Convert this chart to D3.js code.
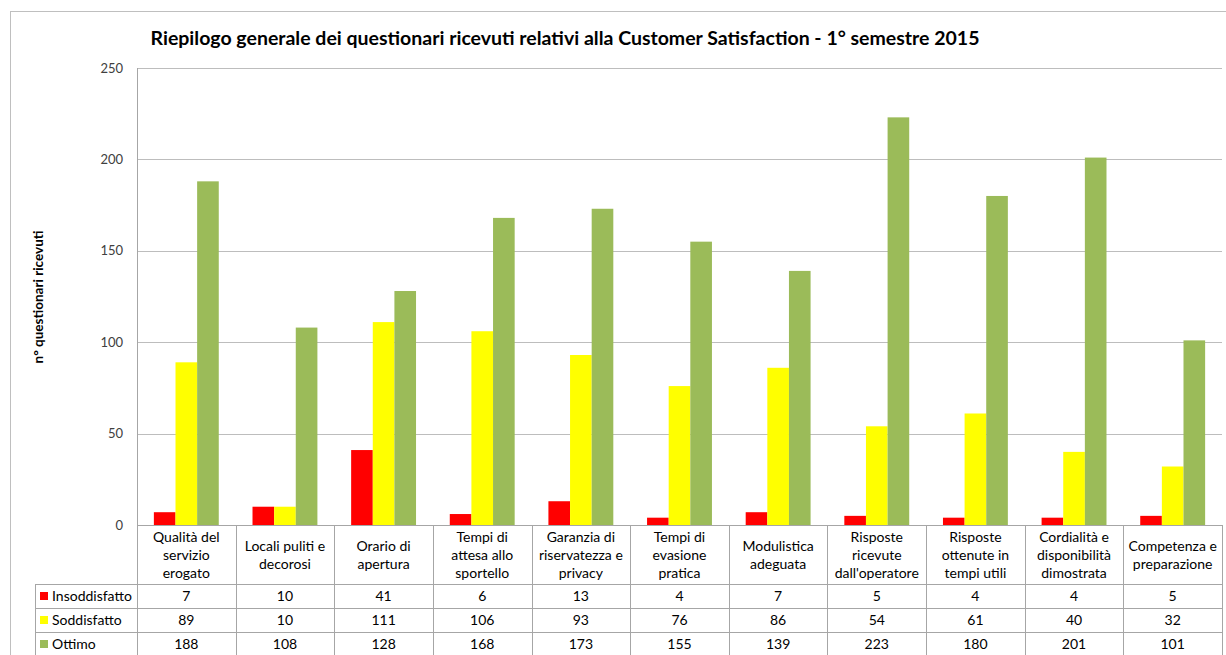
<!DOCTYPE html>
<html>
<head>
<meta charset="utf-8">
<script src="https://d3js.org/d3.v7.min.js"></script>
<style>
  body { margin: 0; background: #fff; }
  svg { display: block; font-family: Lato, "Open Sans", sans-serif; }
</style>
</head>
<body>
<script>
// dati
var categories = [
  ["Qualità del", "servizio", "erogato"],
  ["Locali puliti e", "decorosi"],
  ["Orario di", "apertura"],
  ["Tempi di", "attesa allo", "sportello"],
  ["Garanzia di", "riservatezza e", "privacy"],
  ["Tempi di", "evasione", "pratica"],
  ["Modulistica", "adeguata"],
  ["Risposte", "ricevute", "dall'operatore"],
  ["Risposte", "ottenute in", "tempi utili"],
  ["Cordialità e", "disponibilità", "dimostrata"],
  ["Competenza e", "preparazione"]
];
var seriesNames = ["Insoddisfatto", "Soddisfatto", "Ottimo"];
var insoddisfatto = [7, 10, 41, 6, 13, 4, 7, 5, 4, 4, 5];
var soddisfatto = [89, 10, 111, 106, 93, 76, 86, 54, 61, 40, 32];
var ottimo = [188, 108, 128, 168, 173, 155, 139, 223, 180, 201, 101];
var yTicks = [0, 50, 100, 150, 200, 250];
var colors = ["#ff0000", "#ffff00", "#9bbb59"];

var values = [insoddisfatto, soddisfatto, ottimo];
var W = 1226, H = 655;

var svg = d3.select('body').append('svg')
  .attr('width', W)
  .attr('height', H);

// bordo esterno del grafico
svg.append('rect')
  .attr('x', 10.5).attr('y', 11.5)
  .attr('width', W).attr('height', H)
  .attr('fill', 'none')
  .attr('stroke', '#bfbfbf');

svg.append('text')
  .attr('x', 565).attr('y', 45)
  .attr('text-anchor', 'middle')
  .attr('font-size', 19.5)
  .attr('font-weight', 'bold')
  .attr('fill', '#000')
  .text('Riepilogo generale dei questionari ricevuti relativi alla Customer Satisfaction - 1° semestre 2015');

var idx = d3.range(categories.length);
var x0 = d3.scaleBand().domain(idx).range([137, 1222]);
var x1 = d3.scaleBand().domain(d3.range(3)).range([0, x0.bandwidth()]).paddingOuter(0.78);
var y = d3.scaleLinear().domain([0, 250]).range([525, 68]);

// griglia
svg.append('g').selectAll('line')
  .data(yTicks)
  .join('line')
  .attr('x1', 137).attr('x2', 1222)
  .attr('y1', function(d) { return Math.round(y(d)) + 0.5; })
  .attr('y2', function(d) { return Math.round(y(d)) + 0.5; })
  .attr('stroke', function(d) { return d === 0 ? '#a6a6a6' : '#bdbdbd'; });

svg.append('line')
  .attr('x1', 137.5).attr('x2', 137.5)
  .attr('y1', 68).attr('y2', 525)
  .attr('stroke', '#a6a6a6');

svg.append('g').selectAll('text')
  .data(yTicks)
  .join('text')
  .attr('x', 123)
  .attr('y', function(d) { return y(d); })
  .attr('dy', '0.35em')
  .attr('text-anchor', 'end')
  .attr('font-size', 13)
  .attr('fill', '#404040')
  .text(function(d) { return d; });

svg.append('text')
  .attr('transform', 'translate(43,297) rotate(-90)')
  .attr('text-anchor', 'middle')
  .attr('font-size', 13.5)
  .attr('font-weight', 'bold')
  .attr('fill', '#000')
  .text('n° questionari ricevuti');

// barre
var groups = svg.append('g').selectAll('g')
  .data(idx)
  .join('g')
  .attr('transform', function(i) { return 'translate(' + x0(i) + ',0)'; });

groups.selectAll('rect')
  .data(function(i) { return values.map(function(v, s) { return { s: s, v: v[i] }; }); })
  .join('rect')
  .attr('x', function(d) { return x1(d.s); })
  .attr('width', x1.bandwidth())
  .attr('y', function(d) { return y(d.v); })
  .attr('height', function(d) { return y(0) - y(d.v); })
  .attr('fill', function(d) { return colors[d.s]; });

// tabella dati
var rowTop = 584, rowH = 24, tableLeft = 35;
var tcol = '#a6a6a6';
var fs = 14;
var table = svg.append('g');

// linee verticali delle colonne
table.selectAll('line.col')
  .data(idx.concat([idx.length]))
  .join('line')
  .attr('class', 'col')
  .attr('x1', function(i) { return Math.round(i < idx.length ? x0(i) : 1222) + 0.5; })
  .attr('x2', function(i) { return Math.round(i < idx.length ? x0(i) : 1222) + 0.5; })
  .attr('y1', 525).attr('y2', H)
  .attr('stroke', tcol);

table.selectAll('line.row')
  .data(d3.range(3))
  .join('line')
  .attr('class', 'row')
  .attr('x1', tableLeft).attr('x2', 1222)
  .attr('y1', function(r) { return rowTop + r * rowH + 0.5; })
  .attr('y2', function(r) { return rowTop + r * rowH + 0.5; })
  .attr('stroke', tcol);

table.append('line')
  .attr('x1', tableLeft + 0.5).attr('x2', tableLeft + 0.5)
  .attr('y1', rowTop).attr('y2', H)
  .attr('stroke', tcol);

// etichette categorie
table.selectAll('text.cat')
  .data(idx)
  .join('text')
  .attr('class', 'cat')
  .attr('font-size', fs)
  .attr('fill', '#000')
  .attr('text-anchor', 'middle')
  .each(function(i) {
    var lines = categories[i];
    var t = d3.select(this);
    var startY = 555 - (lines.length - 1) * 18 / 2 + 5;
    lines.forEach(function(l, k) {
      t.append('tspan')
        .attr('x', x0(i) + x0.bandwidth() / 2)
        .attr('y', startY + k * 18)
        .text(l);
    });
  });

// righe delle serie
var rows = table.selectAll('g.srow')
  .data(d3.range(3))
  .join('g')
  .attr('class', 'srow')
  .attr('transform', function(r) { return 'translate(0,' + (rowTop + r * rowH) + ')'; });

rows.append('rect')
  .attr('x', 40).attr('y', 8)
  .attr('width', 8).attr('height', 8)
  .attr('fill', function(r) { return colors[r]; });

rows.append('text')
  .attr('x', 52).attr('y', 17)
  .attr('font-size', fs)
  .attr('fill', '#000')
  .text(function(r) { return seriesNames[r]; });

rows.selectAll('text.val')
  .data(function(r) { return values[r]; })
  .join('text')
  .attr('class', 'val')
  .attr('x', function(v, i) { return x0(i) + x0.bandwidth() / 2; })
  .attr('y', 17)
  .attr('text-anchor', 'middle')
  .attr('font-size', fs)
  .attr('fill', '#000')
  .text(function(v) { return v; });
</script>
</body>
</html>
